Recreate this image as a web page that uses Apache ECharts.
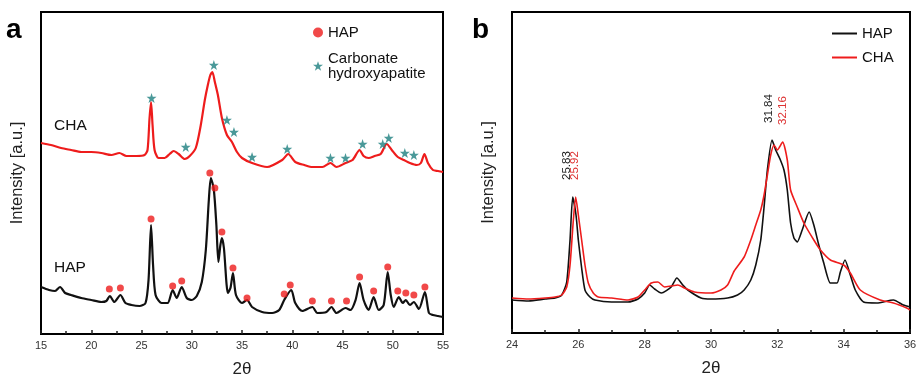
<!DOCTYPE html>
<html><head><meta charset="utf-8">
<script src="https://cdn.jsdelivr.net/npm/echarts@6/dist/echarts.min.js"></script>
<style>html,body{margin:0;padding:0;background:#fff}#c{width:916px;height:380px}</style>
</head><body><div id="c"></div>
<script>
// ---------- Panel a (15-55 2θ), intensity in a.u. ----------
const chaA_x = [15,16,17,18,19,20,21,22,22.8,23.5,24.5,25.3,25.6,25.8,25.95,26.1,26.3,26.7,27.3,27.8,28.2,28.7,29.3,29.8,30.4,30.9,31.3,31.6,31.85,32.05,32.3,32.6,33.0,33.5,34.0,34.5,35.0,36,37.5,39.0,39.6,40.3,41.2,42,43,43.8,44.4,45.3,46.0,46.7,47.1,47.6,48.2,48.8,49.4,49.9,50.5,51.1,51.7,52.4,52.8,53.15,53.5,54,54.5,55];
const chaA_y = [191,189,186,184,182,182,181,179,181,178,178,179,184,216,232,209,184,176,176,180,183,180,175,178,186,209,234,249,259,262,252,239,216,199,192,182,176,171,167,174,180,172,169,167,167,171,167,171,174,184,178,176,178,180,190,184,177,174,171,169,171,180,171,164,163,162];
const hapA_x = [15,15.8,16.4,16.9,17.4,18,19,20,21,21.5,21.85,22.3,22.9,23.4,24,24.8,25.4,25.7,25.95,26.15,26.4,27,27.6,28.1,28.5,29.0,29.5,30,30.5,31,31.4,31.7,31.9,32.2,32.45,32.65,32.85,33.0,33.2,33.6,33.85,34.1,34.4,35,35.5,36,37,38,38.7,39.2,39.9,40.3,41,42,42.5,43.4,43.9,44.4,45.3,45.8,46.3,46.7,47.1,47.6,48.1,48.6,49.1,49.5,49.8,50.1,50.6,51.0,51.3,51.7,52.1,52.6,53.2,53.6,54,54.5,55];
const hapA_y = [47,44,43,47,41,39,36,34,32,33,38,32,39,31,29,28,31,54,109,69,39,31,31,44,36,47,36,34,38,52,84,134,156,144,109,72,89,96,86,41,46,61,39,31,34,27,22,21,24,34,44,31,23,27,21,22,27,21,26,24,34,51,34,24,37,24,29,62,39,27,37,31,34,29,32,25,42,21,19,18,17];
const hapPeaks_x = [21.8,22.9,25.95,28.1,29.0,31.8,32.3,33.0,34.1,35.5,39.2,39.8,42.0,43.9,45.4,46.7,48.1,49.5,50.5,51.3,52.1,53.2];
const hapPeaks_y = [45,46,115,48,53,161,146,102,66,36,40,49,33,33,33,57,43,67,43,41,39,47];
const chaPeaks_x = [26.0,29.4,32.2,33.5,34.2,36.0,39.5,43.8,45.3,47.0,49.0,49.6,51.2,52.1];
const chaPeaks_y = [236,187,269,214,202,177,185,176,176,190,190,196,181,179];
const xTicksA = {min:15, max:55, interval:5};

// ---------- Panel b (24-36 2θ) ----------
const hapB_x = [24,24.5,25,25.3,25.5,25.65,25.75,25.83,25.93,26.0,26.1,26.2,26.35,26.5,27,27.5,27.8,28,28.15,28.3,28.5,28.8,28.97,29.15,29.3,29.7,30,30.5,30.8,31,31.2,31.35,31.5,31.6,31.7,31.84,31.95,32.08,32.2,32.3,32.4,32.5,32.6,32.75,32.96,33.1,33.25,33.4,33.6,33.8,33.9,34.04,34.2,34.35,34.6,35,35.5,35.8,36];
const hapB_y = [33,32,34,35,38,51,93,136,118,93,65,43,36,33,31,31,34,40,48,44,40,46,55,48,43,35,34,35,38,43,53,68,93,126,163,193,183,174,163,143,110,95,91,103,121,108,88,70,50,50,61,73,58,43,31,30,33,28,26];
const chaB_x = [24,24.5,25,25.3,25.5,25.65,25.75,25.85,25.92,26.0,26.1,26.2,26.3,26.45,26.6,27,27.5,27.8,28,28.2,28.4,28.6,28.8,29.0,29.2,29.5,30,30.3,30.5,30.7,31.0,31.2,31.35,31.5,31.6,31.7,31.8,31.9,32.0,32.16,32.3,32.4,32.6,32.8,33.1,33.3,33.6,34.0,34.2,34.5,35.1,35.5,35.9,36];
const chaB_y = [35,34,35,36,38,46,68,113,136,118,93,68,50,40,36,35,33,36,43,50,51,46,47,48,45,41,40,43,48,62,76,93,108,123,138,158,178,188,183,191,173,143,126,110,93,83,73,68,60,43,33,30,25,23];
const peakLabels_x = [25.83, 25.92, 31.84, 32.16];
const peakLabels_y = [136, 136, 193, 191];
const peakLabels_text = ['25.83', '25.92', '31.84', '32.16'];
const peakLabels_series = ['HAP', 'CHA', 'HAP', 'CHA'];
const xTicksB = {min:24, max:36, interval:2};

const RED = '#ee1c1c', BLACK = '#111', TEAL = '#1d8080';
const FONT = 'Liberation Sans, Arial, sans-serif';
const STAR = 'path://M50,0 L61.8,35.3 L98.9,35.3 L68.8,57.2 L80.4,92.7 L50,70.7 L19.6,92.7 L31.2,57.2 L1.1,35.3 L38.2,35.3 Z';
// label placement style (pixel nudges relative to peak tops)
const labelDx = [-6, -1, -3, 0];
const labelGap = 17;

const zip = (xs, ys) => xs.map((x, i) => [x, ys[i]]);

function xAxis(gi, t) {
  return {
    type:'value', gridIndex:gi, min:t.min, max:t.max, interval:t.interval,
    name:'2θ', nameLocation:'middle', nameGap:27,
    nameTextStyle:{fontFamily:FONT, fontSize:17, color:'#222'},
    axisLine:{lineStyle:{color:'#000', width:2}},
    axisTick:{inside:true, length:4, lineStyle:{color:'#222', width:1.5}},
    minorTick:{show:true, splitNumber:2, length:3, lineStyle:{color:'#222', width:1.5}},
    axisLabel:{fontFamily:FONT, fontSize:11, color:'#333', margin:6},
    splitLine:{show:false}
  };
}
function yAxis(gi, max) {
  return {
    type:'value', gridIndex:gi, min:0, max:max,
    name:'Intensity [a.u.]', nameLocation:'middle', nameGap:15,
    nameTextStyle:{fontFamily:FONT, fontSize:16.5, color:'#222'},
    axisLine:{show:true, lineStyle:{color:'#000', width:2}},
    axisTick:{show:false}, axisLabel:{show:false}, splitLine:{show:false}
  };
}

const chart = echarts.init(document.getElementById('c'));
chart.setOption({
  animation:false,
  backgroundColor:'#fff',
  grid:[
    {left:41, top:12, width:402, height:322, outerBoundsMode:'none', containLabel:false, show:true, borderColor:'#000', borderWidth:2, backgroundColor:'transparent'},
    {left:512, top:12, width:398, height:321, outerBoundsMode:'none', containLabel:false, show:true, borderColor:'#000', borderWidth:2, backgroundColor:'transparent'}
  ],
  xAxis:[xAxis(0, xTicksA), xAxis(1, xTicksB)],
  yAxis:[yAxis(0, 322), yAxis(1, 321)],
  legend:[
    {left:313, top:25, padding:0, orient:'vertical', itemWidth:10, itemHeight:10, itemGap:11,
     data:['HAP●','CHA★'],
     formatter: n => n === 'HAP●' ? 'HAP' : 'Carbonate\nhydroxyapatite',
     textStyle:{fontFamily:FONT, fontSize:15, lineHeight:15, color:'#111'}},
    {left:832, top:26, padding:0, orient:'vertical', itemWidth:25, itemHeight:2, itemGap:9, icon:'rect',
     data:['HAP','CHA'],
     textStyle:{fontFamily:FONT, fontSize:15, color:'#111'}}
  ],
  series:[
    {name:'CHA a', type:'line', xAxisIndex:0, yAxisIndex:0, data:zip(chaA_x, chaA_y), smooth:0.25, showSymbol:false, symbol:'none', lineStyle:{color:RED, width:2.2}, z:2},
    {name:'HAP a', type:'line', xAxisIndex:0, yAxisIndex:0, data:zip(hapA_x, hapA_y), smooth:0.25, showSymbol:false, symbol:'none', lineStyle:{color:BLACK, width:2.2}, z:2},
    {name:'HAP●', type:'scatter', xAxisIndex:0, yAxisIndex:0, data:zip(hapPeaks_x, hapPeaks_y), symbol:'circle', symbolSize:7, itemStyle:{color:RED}, z:3},
    {name:'CHA★', type:'scatter', xAxisIndex:0, yAxisIndex:0, data:zip(chaPeaks_x, chaPeaks_y), symbol:STAR, symbolSize:10, itemStyle:{color:TEAL}, z:3},
    {name:'HAP', type:'line', xAxisIndex:1, yAxisIndex:1, data:zip(hapB_x, hapB_y), smooth:0.2, showSymbol:false, symbol:'none', lineStyle:{color:BLACK, width:1.6}, itemStyle:{color:BLACK}, z:2},
    {name:'CHA', type:'line', xAxisIndex:1, yAxisIndex:1, data:zip(chaB_x, chaB_y), smooth:0.2, showSymbol:false, symbol:'none', lineStyle:{color:RED, width:1.6}, itemStyle:{color:RED}, z:3}
  ]
});

const staticGraphics = [
  {type:'text', left:6, top:16, style:{text:'a', fontFamily:FONT, fontSize:28, fontWeight:'bold', fill:'#000'}},
  {type:'text', left:472, top:16, style:{text:'b', fontFamily:FONT, fontSize:28, fontWeight:'bold', fill:'#000'}},
  {type:'text', left:54, top:118, style:{text:'CHA', fontFamily:FONT, fontSize:15.5, fill:'#111'}},
  {type:'text', left:54, top:260, style:{text:'HAP', fontFamily:FONT, fontSize:15.5, fill:'#111'}}
];
const peakGraphics = peakLabels_x.map((x, i) => {
  const p = chart.convertToPixel({gridIndex:1}, [x, peakLabels_y[i]]);
  return {type:'text', x:p[0] + labelDx[i], y:p[1] - labelGap, rotation:Math.PI/2,
    style:{text:peakLabels_text[i], fontFamily:FONT, fontSize:11.5,
      fill: peakLabels_series[i] === 'HAP' ? '#222' : '#d33',
      textAlign:'left', textVerticalAlign:'middle'}};
});
chart.setOption({graphic: staticGraphics.concat(peakGraphics)});
</script></body></html>
